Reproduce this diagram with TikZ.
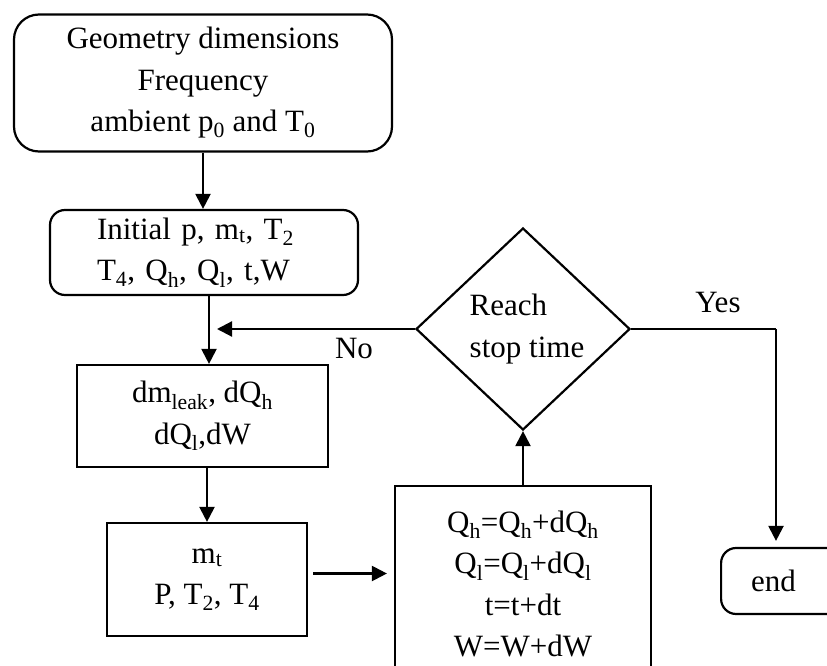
\documentclass[tikz,border=0pt]{standalone}
\usepackage{fontspec}
\setmainfont{Liberation Serif}
\usetikzlibrary{shapes.geometric,arrows.meta}
\newcommand{\sbs}[1]{\textsubscript{#1}}
\begin{document}
\begin{tikzpicture}[x=1pt,y=-1pt,
  every node/.style={font=\fontsize{31}{41.5}\selectfont},
  box/.style={draw, line width=2.2pt, inner sep=0pt, align=center},
  roundbox/.style={box, rounded corners=15pt},
  arr/.style={line width=2.2pt, -{Triangle[length=15pt,width=15pt]}},
  flow/.style={line width=2.2pt}]
\clip (0,0) rectangle (827,666);

% process boxes
\node[roundbox, rounded corners=25pt, minimum width=378pt, minimum height=137pt]
  (inputs) at (203,83) {Geometry dimensions\\Frequency\\ambient p\sbs{0} and T\sbs{0}};
\node[roundbox, minimum width=308pt, minimum height=85pt, text width=214pt, align=left]
  (init) at (204,252.5) {Initial p, m\sbs{t}, T\sbs{2}\\T\sbs{4}, Q\sbs{h}, Q\sbs{l}, t,W};
\node[box, minimum width=251pt, minimum height=102pt]
  (incr) at (202.5,416) {dm\sbs{leak}, dQ\sbs{h}\\dQ\sbs{l},dW};
\node[box, minimum width=200pt, minimum height=113pt]
  (state) at (207,579.5) {m\sbs{t}\\P, T\sbs{2}, T\sbs{4}};
\node[box, minimum width=256pt, minimum height=196pt]
  (update) at (523,584) {Q\sbs{h}=Q\sbs{h}+dQ\sbs{h}\\Q\sbs{l}=Q\sbs{l}+dQ\sbs{l}\\t=t+dt\\W=W+dW};
\node[draw, diamond, line width=2.2pt, minimum width=214pt, minimum height=202pt,
  inner sep=0pt, align=left] (stop) at (523,329) {\hspace*{8pt}Reach\\\hspace*{8pt}stop time};
\node[roundbox, minimum width=120pt, minimum height=66pt, text width=60pt,
  inner xsep=30pt, align=left, anchor=west] (end) at (720,581) {end};

% labels
\node (no) at (354,348) {No};
\node (yes) at (718,303) {Yes};

% connectors
\coordinate (join) at (209,328);
\coordinate (turn) at (776,329);
\draw[arr] (inputs.south) -- (inputs.south |- init.north);
\draw[arr] ([xshift=5pt]init.south) -- ([xshift=5pt]init.south |- incr.north);
\draw[arr, shorten >=8pt] (stop.west) -- (stop.west -| join);
\draw[arr] (state.north |- incr.south) -- (state.north);
\draw[arr, shorten <=5pt, shorten >=7pt] ([yshift=6pt]state.east) -- ([yshift=6pt]state.east -| update.west);
\draw[arr] (update.north) -- (stop.south);
\draw[flow] (stop.east) -- (turn);
\draw[arr, shorten >=6pt] (turn) -- (turn |- end.north);
\end{tikzpicture}
\end{document}
